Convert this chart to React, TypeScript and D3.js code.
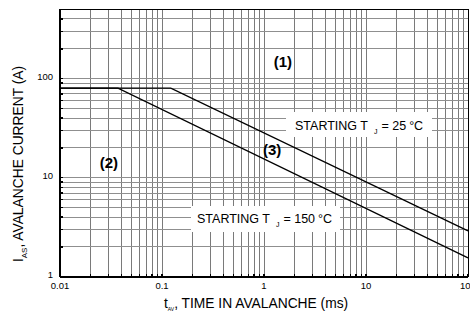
import * as d3 from "d3";

// avalanche current vs time, two starting junction temperatures
const timeMs25 = [0.01, 0.122, 100];
const currentA25 = [80, 80, 2.9];
const timeMs150 = [0.01, 0.037, 100];
const currentA150 = [80, 80, 1.55];

const xTickLabels = ["0.01", "0.1", "1", "10", "100"];
const yTickLabels = ["1", "10", "100"];

const regionLabels = ["(1)", "(2)", "(3)"];
const regionTimes = [1.53, 0.0302, 1.2];
const regionCurrents = [131, 12.5, 17];

const width = 470;
const height = 313;
const marginLeft = 60;
const marginRight = 2;
const marginTop = 9.4;
const marginBottom = 36.3;

const font = "'Liberation Sans', Arial, Helvetica, sans-serif";

export default function App() {
  const x = d3
    .scaleLog()
    .domain([0.01, 100])
    .range([marginLeft, width - marginRight]);
  const y = d3
    .scaleLog()
    .domain([1, 500])
    .range([height - marginBottom, marginTop]);

  const xGrid = x.ticks();
  const yGrid = y.ticks();

  const toPoints = (ts: number[], is: number[]) =>
    ts.map((t, i) => [t, is[i]] as [number, number]);

  const line = d3
    .line<[number, number]>()
    .x((d) => x(d[0]))
    .y((d) => y(d[1]));

  const x0 = marginLeft;
  const x1 = width - marginRight;
  const y0 = height - marginBottom;
  const y1 = marginTop;

  return (
    <svg
      width={width}
      height={height}
      viewBox={`0 0 ${width} ${height}`}
      style={{ position: "absolute", left: 0, top: 0, background: "#fff" }}
      fontFamily={font}
    >
      {/* grid */}
      <g shapeRendering="crispEdges" strokeWidth={1}>
        {xGrid.map((t, i) => (
          <line key={"gx" + i} x1={x(t)} x2={x(t)} y1={y1} y2={y0} stroke="#7a7a7a" />
        ))}
        {yGrid.map((v, i) => (
          <line key={"gy" + i} x1={x0} x2={x1} y1={y(v)} y2={y(v)} stroke="#8f8f8f" />
        ))}
      </g>

      {/* frame and ticks */}
      <g stroke="#000" shapeRendering="crispEdges">
        <line x1={x0} x2={x1} y1={y1} y2={y1} strokeWidth={1} />
        <line x1={x0} x2={x0} y1={y1} y2={y0} strokeWidth={1.3} />
        <line x1={x0} x2={x1} y1={y0} y2={y0} strokeWidth={1.6} />
        <line x1={x1} x2={x1} y1={y1} y2={y0} strokeWidth={1} />
        {xGrid.map((t, i) => (
          <line key={"tx" + i} x1={x(t)} x2={x(t)} y1={y0} y2={y0 - 3} strokeWidth={1.4} />
        ))}
        {yGrid.map((v, i) => (
          <line key={"ty" + i} x1={x0} x2={x0 + 3} y1={y(v)} y2={y(v)} strokeWidth={1.4} />
        ))}
      </g>

      {/* tick labels */}
      <g fontSize={9.5} fill="#000">
        {xTickLabels.map((s) => (
          <text key={s} x={x(+s)} y={y0 + 12.5} textAnchor="middle">
            {s}
          </text>
        ))}
        {yTickLabels.map((s) => (
          <text key={s} x={x0 - 7} y={y(+s) + 1.5} textAnchor="end">
            {s}
          </text>
        ))}
      </g>

      {/* curves */}
      <g fill="none" stroke="#000" strokeWidth={1.3}>
        <path d={line(toPoints(timeMs25, currentA25)) ?? ""} />
        <path d={line(toPoints(timeMs150, currentA150)) ?? ""} />
      </g>

      {/* condition boxes */}
      <g fontSize={12.5} fill="#000">
        <rect x={286} y={112} width={146} height={25} fill="#fff" />
        <text x={295} y={130}>
          STARTING T
          <tspan dx={6} dy={4} fontSize={7}>J</tspan>
          <tspan dx={4} dy={-4}>= 25</tspan>
          <tspan dx={3}>°C</tspan>
        </text>
        <rect x={191} y={206} width={149} height={26} fill="#fff" />
        <text x={197} y={223}>
          STARTING T
          <tspan dx={6} dy={4} fontSize={7}>J</tspan>
          <tspan dx={4} dy={-4}>= 150</tspan>
          <tspan dx={3}>°C</tspan>
        </text>
      </g>

      {/* region labels */}
      <g fontSize={15} fontWeight="bold" fill="#000" textAnchor="middle">
        {regionLabels.map((s, i) => (
          <text key={s} x={x(regionTimes[i])} y={y(regionCurrents[i])}>
            {s}
          </text>
        ))}
      </g>

      {/* axis titles */}
      <text x={164} y={308} fontSize={13.8} fill="#000">
        t
        <tspan dy={3} fontSize={5}>AV</tspan>
        <tspan dy={-3}>, TIME IN AVALANCHE (ms)</tspan>
      </text>
      <text
        transform="translate(23,164) rotate(-90)"
        textAnchor="middle"
        fontSize={13.8}
        fill="#000"
      >
        I
        <tspan dy={3.5} fontSize={8}>AS</tspan>
        <tspan dy={-3.5}>, AVALANCHE CURRENT (A)</tspan>
      </text>
    </svg>
  );
}
